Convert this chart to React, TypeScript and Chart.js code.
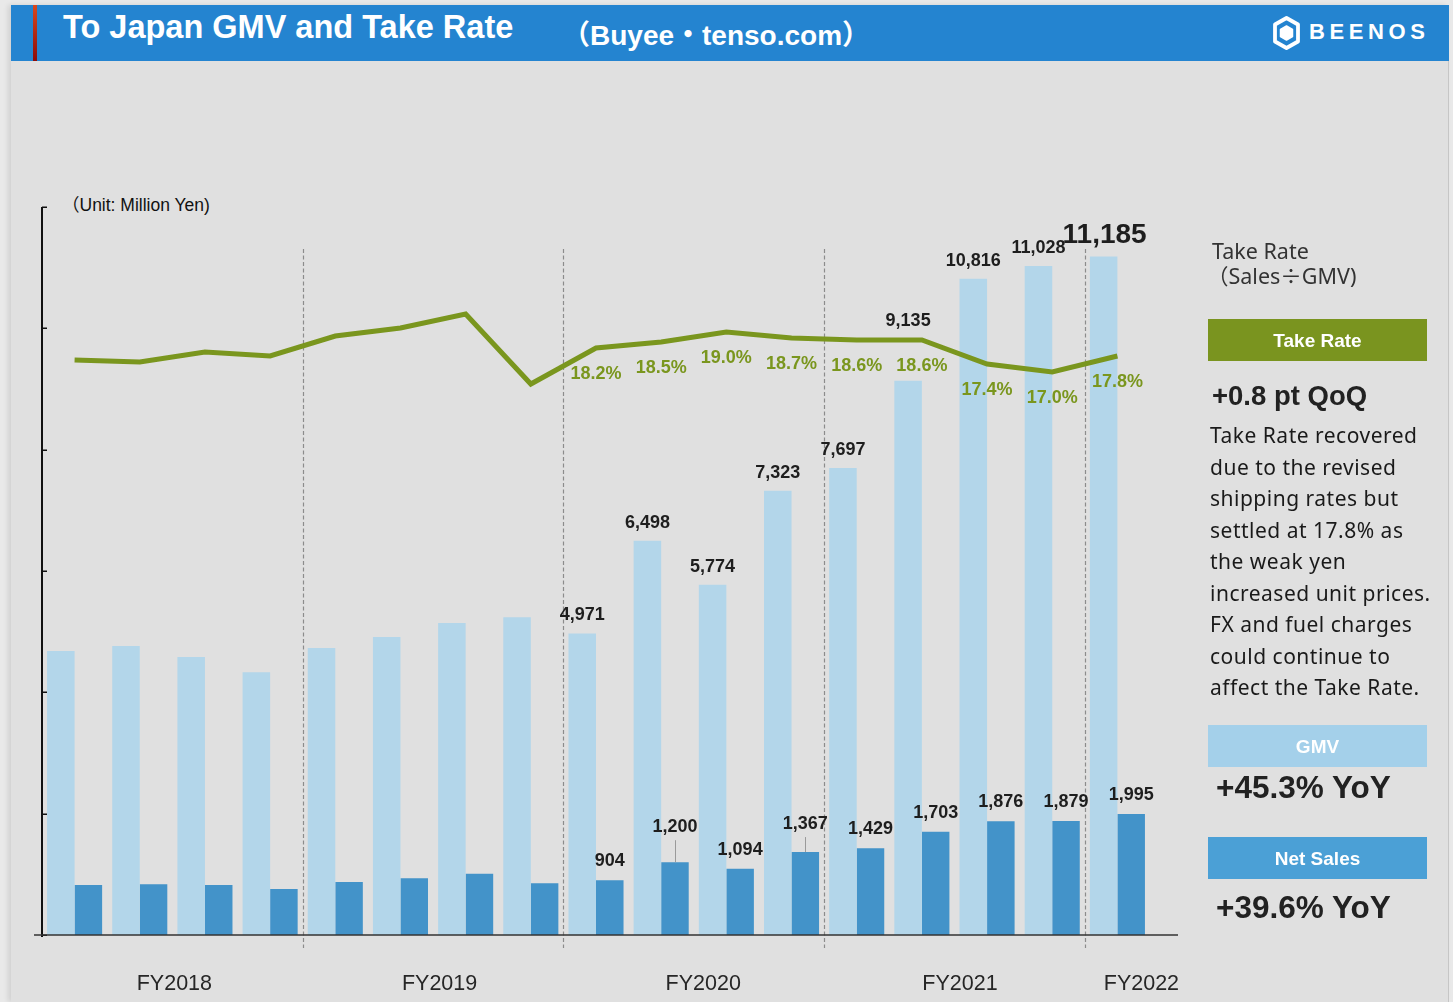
import React, { useEffect, useRef } from 'react';
import { Chart, registerables } from 'chart.js';

Chart.register(...registerables);

// ---------- data ----------
const quarters = [
  'FY2018 Q1', 'FY2018 Q2', 'FY2018 Q3', 'FY2018 Q4',
  'FY2019 Q1', 'FY2019 Q2', 'FY2019 Q3', 'FY2019 Q4',
  'FY2020 Q1', 'FY2020 Q2', 'FY2020 Q3', 'FY2020 Q4',
  'FY2021 Q1', 'FY2021 Q2', 'FY2021 Q3', 'FY2021 Q4',
  'FY2022 Q1',
];
const gmv = [4681, 4764, 4582, 4330, 4731, 4912, 5143, 5237, 4971, 6498, 5774, 7323, 7697, 9135, 10816, 11028, 11185];
const netSales = [824, 836, 824, 758, 874, 934, 1011, 852, 904, 1200, 1094, 1367, 1429, 1703, 1876, 1879, 1995];
const takeRate = [17.6, 17.5, 18.0, 17.8, 18.8, 19.2, 19.9, 16.4, 18.2, 18.5, 19.0, 18.7, 18.6, 18.6, 17.4, 17.0, 17.8];
const fiscalYears = ['FY2018', 'FY2019', 'FY2020', 'FY2021', 'FY2022'];
const yearFirstQuarter = [0, 4, 8, 12, 16];
const gmvTickValues = [0, 2000, 4000, 6000, 8000, 10000, 12000];
const firstLabelledQuarter = 8;

// ---------- styling (not data) ----------
const GMV_COLOR = '#b3d6ea';
const NS_COLOR = '#4393c9';
const GREEN = '#7a961e';
const LABEL_FONT = '"Liberation Sans", Arial, sans-serif';
const gmvLift: Record<number, number> = { 13: 55 };
const nsLift: Record<number, number> = { 9: 30, 11: 23 };
const nsLeader: Record<number, boolean> = { 9: true, 11: true };
const fyOffsets = [2, 6.5, 9.5, 5.5, 24];

const fmt = (v: number) => v.toLocaleString('en-US');

const overlayPlugin = {
  id: 'overlay',
  beforeDatasetsDraw(chart: any) {
    const { ctx, scales } = chart;
    const x = scales.x;
    ctx.save();
    ctx.strokeStyle = '#8c8c8c';
    ctx.lineWidth = 1.2;
    ctx.setLineDash([4, 2.5]);
    yearFirstQuarter.slice(1).forEach((i) => {
      const px = Math.round((x.getPixelForValue(i - 1) + x.getPixelForValue(i)) / 2) + 0.5;
      ctx.beginPath();
      ctx.moveTo(px, 249);
      ctx.lineTo(px, 948);
      ctx.stroke();
    });
    ctx.restore();
  },
  afterDatasetsDraw(chart: any) {
    const { ctx, chartArea, scales } = chart;
    const x = scales.x;
    const y = scales.y;
    ctx.save();
    // y axis with inward ticks
    ctx.strokeStyle = '#111';
    ctx.lineWidth = 2;
    ctx.beginPath();
    ctx.moveTo(chartArea.left, y.getPixelForValue(gmvTickValues[gmvTickValues.length - 1]));
    ctx.lineTo(chartArea.left, chartArea.bottom + 2);
    ctx.stroke();
    ctx.lineWidth = 1.5;
    gmvTickValues.forEach((v) => {
      const py = Math.round(y.getPixelForValue(v)) + 0.25;
      ctx.beginPath();
      ctx.moveTo(chartArea.left, py);
      ctx.lineTo(chartArea.left + 5, py);
      ctx.stroke();
    });
    // baseline
    ctx.strokeStyle = '#333';
    ctx.lineWidth = 1.5;
    ctx.beginPath();
    ctx.moveTo(chartArea.left - 8, chartArea.bottom);
    ctx.lineTo(chartArea.right + 28, chartArea.bottom);
    ctx.stroke();

    // GMV labels
    ctx.textAlign = 'center';
    ctx.textBaseline = 'alphabetic';
    ctx.fillStyle = '#1e1e1e';
    const gmvMeta = chart.getDatasetMeta(0);
    gmvMeta.data.forEach((bar: any, i: number) => {
      if (i < firstLabelledQuarter) return;
      const big = i === gmv.length - 1;
      ctx.font = big ? `bold 28px ${LABEL_FONT}` : `bold 18px ${LABEL_FONT}`;
      const lift = gmvLift[i] ?? 13;
      ctx.fillText(fmt(gmv[i]), bar.x + (big ? 1 : 0), bar.y - lift);
    });
    // Net sales labels
    const nsMeta = chart.getDatasetMeta(1);
    nsMeta.data.forEach((bar: any, i: number) => {
      if (i < firstLabelledQuarter) return;
      ctx.font = `bold 18px ${LABEL_FONT}`;
      ctx.fillStyle = '#1e1e1e';
      const lift = nsLift[i] ?? 14;
      ctx.fillText(fmt(netSales[i]), bar.x, bar.y - lift);
      if (nsLeader[i]) {
        ctx.strokeStyle = '#9a9a9a';
        ctx.lineWidth = 1;
        ctx.beginPath();
        ctx.moveTo(Math.round(bar.x) + 0.5, bar.y - lift + 8);
        ctx.lineTo(Math.round(bar.x) + 0.5, bar.y);
        ctx.stroke();
      }
    });
    // take-rate labels
    const trMeta = chart.getDatasetMeta(2);
    ctx.fillStyle = GREEN;
    ctx.font = `bold 18px ${LABEL_FONT}`;
    trMeta.data.forEach((pt: any, i: number) => {
      if (i < firstLabelledQuarter) return;
      ctx.fillText(`${takeRate[i].toFixed(1)}%`, pt.x, pt.y + 31);
    });
    // fiscal year labels
    ctx.fillStyle = '#262626';
    ctx.font = `21.5px ${LABEL_FONT}`;
    fiscalYears.forEach((fy, k) => {
      const start = yearFirstQuarter[k];
      const end = k + 1 < yearFirstQuarter.length ? yearFirstQuarter[k + 1] - 1 : quarters.length - 1;
      const cx = (x.getPixelForValue(start) + x.getPixelForValue(end)) / 2 + fyOffsets[k];
      ctx.fillText(fy, cx, 990);
    });
    ctx.restore();
  },
};

function ChartCanvas() {
  const ref = useRef<HTMLCanvasElement | null>(null);
  useEffect(() => {
    if (!ref.current) return;
    const chart = new Chart(ref.current, {
      type: 'bar',
      data: {
        labels: quarters,
        datasets: [
          {
            type: 'bar',
            label: 'GMV',
            data: gmv,
            backgroundColor: GMV_COLOR,
            borderWidth: 0,
            categoryPercentage: 0.845,
            barPercentage: 1,
            order: 1,
          },
          {
            type: 'bar',
            label: 'Net Sales',
            data: netSales,
            backgroundColor: NS_COLOR,
            borderWidth: 0,
            categoryPercentage: 0.845,
            barPercentage: 1,
            order: 1,
          },
          {
            type: 'line',
            label: 'Take Rate',
            data: takeRate,
            yAxisID: 'y1',
            borderColor: GREEN,
            borderWidth: 5,
            pointRadius: 0,
            tension: 0,
            fill: false,
            order: 0,
          } as any,
        ],
      },
      options: {
        responsive: false,
        animation: false,
        devicePixelRatio: 1,
        events: [],
        layout: { padding: { left: 42, right: 303, top: 207, bottom: 67 } },
        plugins: { legend: { display: false }, tooltip: { enabled: false } },
        scales: {
          x: { type: 'category', display: false, offset: true, grid: { display: false } },
          y: { display: false, min: 0, max: 12000 },
          y1: { display: false, min: -11.15, max: 25.25, position: 'right' },
        },
      },
      plugins: [overlayPlugin],
    });
    return () => chart.destroy();
  }, []);
  return (
    <canvas
      ref={ref}
      width={1453}
      height={1002}
      style={{ position: 'absolute', left: 0, top: 0, width: 1453, height: 1002 }}
    />
  );
}

const abs = (s: React.CSSProperties): React.CSSProperties => ({ position: 'absolute', ...s });
const SANS = '"Liberation Sans", Arial, "Noto Sans CJK JP", sans-serif';
const NOTO = '"Noto Sans", "Noto Sans CJK JP", sans-serif';
const CJK = '"Noto Sans CJK JP", sans-serif';

export default function App() {
  return (
    <div style={abs({ left: 0, top: 0, width: 1453, height: 1002, background: '#e9e9e9', overflow: 'hidden' })}>
      <div
        style={abs({
          left: 11, top: 5, width: 1437, height: 997, background: '#e0e0e0',
          borderRight: '1px solid #c6c6c6', boxShadow: '-3px 0 5px rgba(0,0,0,0.10)',
        })}
      />
      {/* header */}
      <div style={abs({ left: 11, top: 5, width: 1438, height: 56, background: '#2484d0' })} />
      <div style={abs({ left: 33, top: 5, width: 4, height: 56, background: 'linear-gradient(#d9481e, #8b0b0b)' })} />
      <div
        style={abs({
          left: 63, top: 39 - 0.8465 * 32.5, fontFamily: SANS, fontWeight: 'bold', fontSize: 32.5,
          lineHeight: 1, color: '#fff', whiteSpace: 'pre',
        })}
      >
        To Japan GMV and Take Rate
      </div>
      <div
        style={abs({
          left: 562, top: 45.5 - 0.8465 * 28, fontFamily: SANS, fontWeight: 'bold', fontSize: 28,
          lineHeight: 1, color: '#fff', whiteSpace: 'pre',
        })}
      >
        （Buyee・tenso.com）
      </div>
      <svg style={abs({ left: 1273, top: 16 })} width={27} height={34} viewBox="0 0 27 34">
        <polygon points="13.5,2 25,8.5 25,25.5 13.5,32 2,25.5 2,8.5" fill="none" stroke="#fff" strokeWidth={3.8} strokeLinejoin="round" />
        <polygon points="13.5,10 19.5,13.5 19.5,20.5 13.5,24 7.5,20.5 7.5,13.5" fill="#fff" stroke="#fff" strokeWidth={1.5} strokeLinejoin="round" />
      </svg>
      <div
        style={abs({
          left: 1309, top: 40 - 0.8465 * 22, fontFamily: SANS, fontWeight: 'bold', fontSize: 22,
          lineHeight: 1, color: '#fff', letterSpacing: 4.6, whiteSpace: 'pre',
        })}
      >
        BEENOS
      </div>

      <div
        style={abs({
          left: 62, top: 212.3 - 0.8465 * 17.5, fontFamily: SANS, fontSize: 17.5, lineHeight: 1,
          color: '#111', whiteSpace: 'pre',
        })}
      >
        （Unit: Million Yen)
      </div>

      <ChartCanvas />

      {/* right panel */}
      <div style={abs({ left: 1212, top: 239, fontFamily: NOTO, fontSize: 21.5, lineHeight: '24px', color: '#333', whiteSpace: 'pre' })}>
        Take Rate
      </div>
      <div style={abs({ left: 1207, top: 263, fontFamily: NOTO, fontSize: 21.5, lineHeight: '24px', color: '#333', whiteSpace: 'pre' })}>
        （Sales<span style={{ fontFamily: CJK }}>÷</span>GMV)
      </div>
      <div
        style={abs({
          left: 1208, top: 319, width: 219, height: 42, background: '#7a941f', color: '#fff',
          fontFamily: SANS, fontWeight: 'bold', fontSize: 19, lineHeight: '44px', textAlign: 'center',
        })}
      >
        Take Rate
      </div>
      <div
        style={abs({
          left: 1212, top: 405 - 0.8465 * 27.5, fontFamily: SANS, fontWeight: 'bold', fontSize: 27.5,
          lineHeight: 1, color: '#222', whiteSpace: 'pre',
        })}
      >
        +0.8 pt QoQ
      </div>
      <div
        style={abs({
          left: 1210, top: 420, fontFamily: NOTO, fontSize: 21, lineHeight: '31.5px', letterSpacing: 0.5,
          color: '#1a1a1a', whiteSpace: 'pre',
        })}
      >
        {'Take Rate recovered\ndue to the revised\nshipping rates but\nsettled at 17.8% as\nthe weak yen\nincreased unit prices.\nFX and fuel charges\ncould continue to\naffect the Take Rate.'}
      </div>
      <div
        style={abs({
          left: 1208, top: 725, width: 219, height: 42, background: '#a4d0ea', color: '#fff',
          fontFamily: SANS, fontWeight: 'bold', fontSize: 19, lineHeight: '44px', textAlign: 'center',
        })}
      >
        GMV
      </div>
      <div
        style={abs({
          left: 1216, top: 799 - 0.8465 * 31.5, fontFamily: SANS, fontWeight: 'bold', fontSize: 31.5,
          lineHeight: 1, color: '#222', whiteSpace: 'pre',
        })}
      >
        +45.3% YoY
      </div>
      <div
        style={abs({
          left: 1208, top: 837, width: 219, height: 42, background: '#4ba0d6', color: '#fff',
          fontFamily: SANS, fontWeight: 'bold', fontSize: 19, lineHeight: '44px', textAlign: 'center',
        })}
      >
        Net Sales
      </div>
      <div
        style={abs({
          left: 1216, top: 919 - 0.8465 * 31.5, fontFamily: SANS, fontWeight: 'bold', fontSize: 31.5,
          lineHeight: 1, color: '#222', whiteSpace: 'pre',
        })}
      >
        +39.6% YoY
      </div>
    </div>
  );
}
